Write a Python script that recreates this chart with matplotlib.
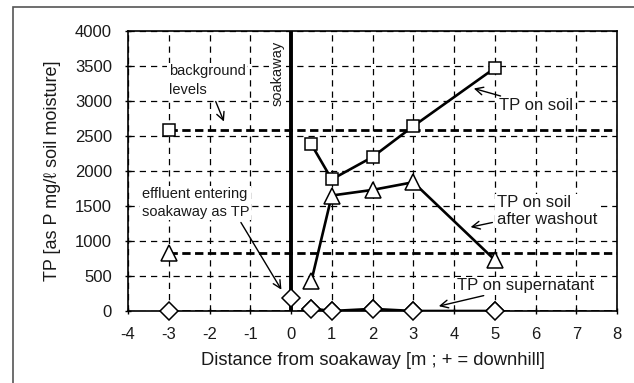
import matplotlib
matplotlib.use('Agg')
import matplotlib.pyplot as plt
from matplotlib.patches import Rectangle

plt.rcParams['font.family'] = ['Liberation Sans', 'DejaVu Sans']
plt.rcParams['axes.unicode_minus'] = False

# background (uphill reference point)
bg_x = -3
bg_soil = 2580
bg_washout = 830
bg_super = 0

# effluent entering soakaway
eff_x = 0
eff_tp = 180

# downhill series
dist = [0.5, 1, 2, 3, 5]
tp_soil = [2380, 1880, 2200, 2640, 3470]
tp_washout = [430, 1650, 1730, 1840, 730]
tp_super = [35, 0, 30, 0, 0]

fig = plt.figure(figsize=(6.34, 3.83), dpi=100)
ax = fig.add_axes([0.2019, 0.188, 0.7713, 0.731])

# outer frame of the chart area
fig.patches.append(Rectangle((13 / 634, -0.05), 1.2, 1 - 7 / 383 + 0.05,
                             transform=fig.transFigure, fill=False,
                             edgecolor='#555555', lw=1.2))

ax.set_xlim(-4, 8)
ax.set_ylim(0, 4000)
ax.set_xticks(range(-4, 9))
ax.set_yticks(range(0, 4001, 500))
ax.grid(True, color='black', linestyle=(0, (5, 4)), lw=0.9)
ax.tick_params(direction='inout', length=5, width=1, labelsize=12,
               colors='black', labelcolor='#1a1a1a')
ax.tick_params(axis='y', pad=9)
ax.tick_params(axis='x', pad=9)
for s in ax.spines.values():
    s.set_linewidth(1.2)

# background levels
for lv in [bg_soil, bg_washout, bg_super]:
    ax.plot([bg_x, 8], [lv, lv], color='black', lw=2, ls=(0, (3, 1.6)), zorder=3)

# soakaway line
ax.axvline(0, color='black', lw=2.8, zorder=3)

mk = dict(markerfacecolor='white', markeredgecolor='black', markeredgewidth=1.1)
ax.plot(dist, tp_soil, color='black', lw=1.9, marker='s', ms=9, zorder=5, **mk)
ax.plot(dist, tp_washout, color='black', lw=1.9, marker='^', ms=11, zorder=5, **mk)
ax.plot(dist, tp_super, color='black', lw=1.9, marker='D', ms=9.5, zorder=5, **mk)
ax.plot([bg_x], [bg_soil], marker='s', ms=9, zorder=6, **mk)
ax.plot([bg_x], [bg_washout], marker='^', ms=11, zorder=6, **mk)
ax.plot([bg_x], [bg_super], marker='D', ms=9.5, zorder=6, clip_on=False, **mk)
ax.plot([eff_x], [eff_tp], marker='D', ms=9.5, zorder=6, **mk)
for x, y in zip(dist, tp_super):
    ax.plot([x], [y], marker='D', ms=9.5, zorder=6, clip_on=False, **mk)

ax.set_xlabel('Distance from soakaway [m ; + = downhill]', fontsize=13.2, color='#1a1a1a', labelpad=7)
ax.set_ylabel('TP [as P mg/ℓ soil moisture]', fontsize=13, color='#1a1a1a', labelpad=10)

sm = dict(fontsize=10.5, color='#1a1a1a')
lg = dict(fontsize=12, color='#1a1a1a')
ar = dict(arrowstyle='->', color='black', lw=1, mutation_scale=14)
bg = dict(boxstyle='square,pad=0.1', fc='white', ec='none')

ax.annotate('background\nlevels', xy=(-1.62, 2670), xytext=(-3.0, 3290),
            ha='left', va='center', linespacing=1.5, arrowprops=ar, bbox=bg, **sm)
ax.text(-0.33, 3400, 'soakaway', rotation=90, ha='center', va='center', bbox=bg, **sm)
ax.annotate('TP on soil', xy=(4.42, 3190), xytext=(5.1, 2930),
            ha='left', va='center', arrowprops=ar, bbox=bg, **lg)
ax.annotate('TP on soil\nafter washout', xy=(4.34, 1190), xytext=(5.05, 1430),
            ha='left', va='center', linespacing=1.1, arrowprops=ar, bbox=bg, **lg)
ax.annotate('TP on supernatant', xy=(3.56, 60), xytext=(4.07, 360),
            ha='left', va='center', arrowprops=ar, bbox=bg, **lg)
ax.annotate('effluent entering\nsoakaway as TP', xy=(-0.2, 270), xytext=(-3.66, 1543),
            ha='left', va='center', linespacing=1.3,
            arrowprops=dict(ar, relpos=(0.9, 0.0)), bbox=bg, **sm)

fig.savefig('out.png', dpi=100)
